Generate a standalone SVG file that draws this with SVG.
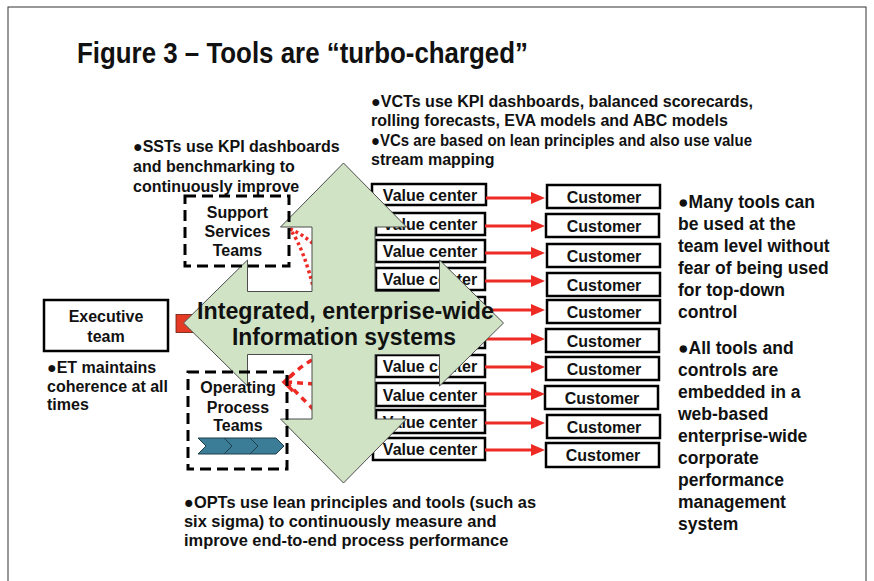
<svg xmlns="http://www.w3.org/2000/svg" width="874" height="581" viewBox="0 0 874 581">
<style>
text{font-family:"Liberation Sans",Arial,sans-serif;font-weight:bold;fill:#111}
.box{fill:#fff;stroke:#000;stroke-width:2.5}
.dash{fill:none;stroke:#000;stroke-width:3;stroke-dasharray:11 6}
.lbl{font-size:16px;text-anchor:middle}
.body{font-size:16px}
.bot{font-size:16.4px}
.vct{font-size:16px}
.side{font-size:17.5px}
.arr{stroke:#ee2a24;stroke-width:3;fill:none}
.ahead{fill:#ee2a24}
.dot{fill:none;stroke:#ee2a24;stroke-width:3.5;stroke-dasharray:3 3}
.dsh{fill:none;stroke:#ee2a24;stroke-width:3.5;stroke-dasharray:6 5}
.chev{fill:#3b7d96;stroke:#1f3f4c;stroke-width:1}
</style>
<rect x="8" y="7" width="858" height="600" fill="#fff" stroke="#333" stroke-width="1"/>
<text x="77" y="63" font-size="30" textLength="451" lengthAdjust="spacingAndGlyphs">Figure 3 – Tools are “turbo-charged”</text>

<g id="vct-text">
<text class="vct" x="371" y="107" textLength="382" lengthAdjust="spacingAndGlyphs">●VCTs use KPI dashboards, balanced scorecards,</text>
<text class="vct" x="371" y="126">rolling forecasts, EVA models and ABC models</text>
<text class="vct" x="371" y="146" textLength="381" lengthAdjust="spacingAndGlyphs">●VCs are based on lean principles and also use value</text>
<text class="vct" x="371" y="165">stream mapping</text>
</g>
<g id="sst-text">
<text class="body" x="133" y="152">●SSTs use KPI dashboards</text>
<text class="body" x="133" y="172">and benchmarking to</text>
<text class="body" x="133" y="191.5">continuously improve</text>
</g>

<g id="value-centers">
<g id="vc1"><rect class="box" x="372" y="184" width="114" height="21"/><text class="lbl" x="430" y="200.5">Value center</text></g>
<g id="vc2"><rect class="box" x="376" y="213" width="109" height="22"/><text class="lbl" x="430" y="230">Value center</text></g>
<g id="vc3"><rect class="box" x="376" y="240" width="109" height="22"/><text class="lbl" x="430" y="257">Value center</text></g>
<g id="vc4"><rect class="box" x="376" y="268" width="109" height="22"/><text class="lbl" x="430" y="285">Value center</text></g>
<g id="vc5"><rect class="box" x="376" y="297" width="109" height="22"/></g>
<g id="vc6"><rect class="box" x="376" y="326" width="109" height="22"/></g>
<g id="vc7"><rect class="box" x="376" y="355" width="109" height="22"/><text class="lbl" x="430" y="372">Value center</text></g>
<g id="vc8"><rect class="box" x="376" y="383" width="109" height="23"/><text class="lbl" x="430" y="400.5">Value center</text></g>
<g id="vc9"><rect class="box" x="376" y="410" width="109" height="23"/><text class="lbl" x="430" y="427.5">Value center</text></g>
<g id="vc10"><rect class="box" x="373" y="438" width="112" height="22"/><text class="lbl" x="430" y="455">Value center</text></g>
</g>

<g id="customers">
<g id="c1"><rect class="box" x="547" y="185" width="113" height="23"/><text class="lbl" x="604" y="202.5">Customer</text></g>
<g id="c2"><rect class="box" x="546" y="214" width="113" height="23"/><text class="lbl" x="604" y="231.5">Customer</text></g>
<g id="c3"><rect class="box" x="547" y="244" width="113" height="23"/><text class="lbl" x="604" y="261.5">Customer</text></g>
<g id="c4"><rect class="box" x="547" y="273" width="113" height="23"/><text class="lbl" x="604" y="290.5">Customer</text></g>
<g id="c5"><rect class="box" x="547" y="300" width="113" height="23"/><text class="lbl" x="604" y="317.5">Customer</text></g>
<g id="c6"><rect class="box" x="546" y="329" width="113" height="23"/><text class="lbl" x="604" y="346.5">Customer</text></g>
<g id="c7"><rect class="box" x="546" y="357" width="113" height="23"/><text class="lbl" x="604" y="374.5">Customer</text></g>
<g id="c8"><rect class="box" x="545" y="386" width="113" height="23"/><text class="lbl" x="602" y="403.5">Customer</text></g>
<g id="c9"><rect class="box" x="547" y="415" width="113" height="23"/><text class="lbl" x="604" y="432.5">Customer</text></g>
<g id="c10"><rect class="box" x="546" y="443" width="113" height="24"/><text class="lbl" x="603" y="461">Customer</text></g>
</g>

<g id="connectors">
<path class="arr" d="M486 198H532M485 226H532M485 253H532M485 281H532M485 310H532M485 339H532M485 367H532M485 394H532M485 423H532M485 450H532"/>
<path class="ahead" d="M531 192L545 198L531 204ZM531 220L545 226L531 232ZM531 247L545 253L531 259ZM531 275L545 281L531 287ZM531 304L545 310L531 316ZM531 333L545 339L531 345ZM531 361L545 367L531 373ZM531 388L545 394L531 400ZM531 417L545 423L531 429ZM531 444L545 450L531 456Z"/>
<path class="dot" d="M290 229Q303 234 318 248"/>
<path class="dot" d="M292 232Q304 250 314 290"/>
<path class="dsh" d="M312 360Q298 368 286 381"/>
<path class="dsh" d="M314 384L288 382"/>
<path class="dsh" d="M314 410Q300 396 288 384"/>
<polyline points="294,373 284,382 293,391" fill="none" stroke="#ee2a24" stroke-width="3.5"/>
<rect x="176" y="314.5" width="22" height="18" fill="#e53b24" stroke="#6a1a10" stroke-width="0.8"/>
</g>

<g id="info-systems">
<polygon points="343.5,163 406.5,227 375,227 375,291.5 439.5,291.5 439.5,260 503.5,323 439.5,386 439.5,354.5 375,354.5 375,419 406.5,419 343.5,483 280.5,419 312,419 312,354.5 247.5,354.5 247.5,386 183.5,323 247.5,260 247.5,291.5 312,291.5 312,227 280.5,227" fill="#d0e4c5" stroke="#4d4d4d" stroke-width="1"/>
<text x="197" y="319" font-size="23" textLength="297" lengthAdjust="spacingAndGlyphs">Integrated, enterprise-wide</text>
<text x="232" y="345" font-size="23" textLength="224" lengthAdjust="spacingAndGlyphs">Information systems</text>
</g>

<g id="executive-team">
<rect class="box" x="44" y="300" width="124" height="51" stroke-width="2"/>
<text class="lbl" x="106" y="322">Executive</text>
<text class="lbl" x="106" y="341.5">team</text>
</g>
<g id="et-text">
<text class="body" x="47" y="372.5">●ET maintains</text>
<text class="body" x="47" y="391.5">coherence at all</text>
<text class="body" x="47" y="410">times</text>
</g>

<g id="support-services-teams">
<rect class="dash" x="185" y="196" width="104" height="70"/>
<text class="lbl" x="237.5" y="217.5">Support</text>
<text class="lbl" x="237.5" y="237">Services</text>
<text class="lbl" x="237.5" y="256">Teams</text>
</g>

<g id="operating-process-teams">
<rect class="dash" x="188" y="372" width="99" height="97"/>
<text class="lbl" x="238" y="393">Operating</text>
<text class="lbl" x="238" y="412.5">Process</text>
<text class="lbl" x="238" y="431">Teams</text>
<polygon class="chev" points="198,438 224,438 232,446 224,454 198,454 206,446"/>
<polygon class="chev" points="224,438 250,438 258,446 250,454 224,454 232,446"/>
<polygon class="chev" points="250,438 276,438 284,446 276,454 250,454 258,446"/>
</g>

<g id="opt-text">
<text class="bot" x="184" y="508">●OPTs use lean principles and tools (such as</text>
<text class="bot" x="184" y="527">six sigma) to continuously measure and</text>
<text class="bot" x="184" y="545.5">improve end-to-end process performance</text>
</g>

<g id="side-text">
<text class="side" x="678" y="207.5">●Many tools can</text>
<text class="side" x="678" y="229.5">be used at the</text>
<text class="side" x="678" y="251.5">team level without</text>
<text class="side" x="678" y="273.5">fear of being used</text>
<text class="side" x="678" y="295.5">for top-down</text>
<text class="side" x="678" y="317.5">control</text>
<text class="side" x="678" y="353.5">●All tools and</text>
<text class="side" x="678" y="375.5">controls are</text>
<text class="side" x="678" y="397.5">embedded in a</text>
<text class="side" x="678" y="419.5">web-based</text>
<text class="side" x="678" y="441.5">enterprise-wide</text>
<text class="side" x="678" y="463.5">corporate</text>
<text class="side" x="678" y="485.5">performance</text>
<text class="side" x="678" y="507.5">management</text>
<text class="side" x="678" y="529.5">system</text>
</g>
</svg>
